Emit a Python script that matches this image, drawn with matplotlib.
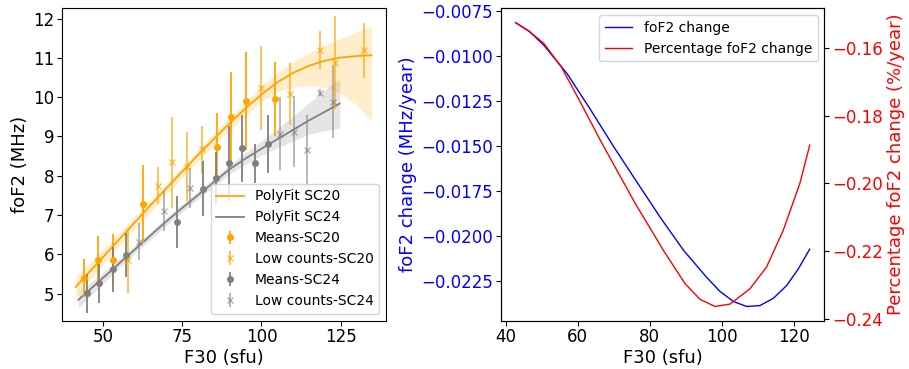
import matplotlib
matplotlib.use('Agg')
import matplotlib.pyplot as plt
from matplotlib.ticker import MultipleLocator
import numpy as np

# ---- left panel: foF2 vs F30 ----
# polynomial fits with their confidence band
fit20_x = [41.4, 45, 50, 55, 60, 65, 70, 75, 80, 85, 90, 95, 100, 105, 110, 115, 120, 125, 130, 134.7]
fit20_y = [5.17, 5.49, 5.93, 6.37, 6.81, 7.25, 7.68, 8.11, 8.53, 8.94, 9.34, 9.72, 10.07, 10.38, 10.62, 10.80, 10.93, 11.01, 11.05, 11.07]
fit20_hi = [5.45, 5.72, 6.12, 6.54, 6.96, 7.39, 7.81, 8.24, 8.66, 9.08, 9.49, 9.90, 10.30, 10.62, 10.90, 11.13, 11.33, 11.50, 11.66, 11.82]
fit20_lo = [4.92, 5.28, 5.74, 6.20, 6.64, 7.09, 7.53, 7.96, 8.38, 8.78, 9.17, 9.54, 9.88, 10.14, 10.25, 10.30, 10.25, 10.10, 9.80, 9.40]

fit24_x = [42.2, 45, 50, 55, 60, 65, 70, 75, 80, 85, 90, 95, 100, 105, 110, 115, 120, 124.7]
fit24_y = [4.84, 5.04, 5.40, 5.76, 6.12, 6.48, 6.84, 7.18, 7.51, 7.84, 8.17, 8.44, 8.69, 8.93, 9.17, 9.41, 9.63, 9.84]
fit24_hi = [5.04, 5.21, 5.54, 5.87, 6.22, 6.58, 6.94, 7.28, 7.61, 7.95, 8.29, 8.59, 8.89, 9.20, 9.52, 9.86, 10.18, 10.48]
fit24_lo = [4.64, 4.86, 5.26, 5.64, 6.02, 6.38, 6.74, 7.08, 7.41, 7.73, 8.05, 8.29, 8.52, 8.71, 8.89, 9.06, 9.15, 9.21]

# bin means
sc20_x = [44.0, 48.5, 53.3, 62.5, 85.9, 90.4, 95.1, 104.4]
sc20_y = [5.39, 5.86, 5.86, 7.28, 8.73, 9.49, 9.91, 9.95]
sc20_e = [0.48, 0.60, 0.65, 1.00, 0.86, 1.16, 1.25, 0.95]

sc20lc_x = [57.9, 67.2, 71.9, 76.5, 81.1, 99.7, 109.1, 118.4, 123.1, 132.2]
sc20lc_y = [5.85, 7.75, 8.34, 8.23, 8.68, 10.23, 10.08, 11.20, 10.88, 11.20]
sc20lc_e = [0.83, 0.48, 1.16, 0.88, 0.60, 1.07, 0.78, 0.48, 1.18, 0.70]

sc24_x = [44.8, 48.7, 53.0, 57.1, 73.5, 81.7, 85.6, 89.7, 93.8, 97.9, 102.2]
sc24_y = [5.01, 5.26, 5.62, 5.98, 6.83, 7.67, 7.94, 8.32, 8.70, 8.32, 8.81]
sc24_e = [0.50, 0.50, 0.57, 0.57, 0.66, 0.70, 0.66, 0.95, 0.86, 0.50, 0.74]

sc24lc_x = [61.2, 69.3, 77.4, 106.0, 110.2, 114.4, 118.4, 122.6]
sc24lc_y = [6.32, 7.10, 7.69, 9.07, 9.12, 8.66, 10.12, 9.88]
sc24lc_e = [0.47, 0.50, 0.50, 0.93, 0.90, 0.89, 0.08, 0.93]

# ---- right panel: trends ----
trend_x = [42.8, 46.5, 50.6, 57.1, 63.5, 70.0, 76.5, 82.9, 89.4, 95.8, 99.5, 103.2, 106.9,
           110.6, 114.3, 118.0, 121.2, 124.4]
trend_abs = [-0.00813, -0.00860, -0.00938, -0.01097, -0.01294, -0.01502, -0.01700, -0.01894,
             -0.02078, -0.02228, -0.02306, -0.02362, -0.02390, -0.02385, -0.02345, -0.02274,
             -0.02183, -0.02072]
pct_x = [42.77, 46.5, 50.61, 55.5, 60.48, 66.76, 75.99, 83.83, 89.83, 93.98, 98.13, 102.28,
         107.82, 112.43, 117.05, 121.66, 124.43]
trend_pct = [-0.1526, -0.1551, -0.1587, -0.1657, -0.1755, -0.1882, -0.2059, -0.2198, -0.2296,
             -0.2342, -0.2363, -0.2356, -0.2311, -0.2247, -0.2139, -0.2001, -0.1887]

fig = plt.figure(figsize=(9.09, 3.69), dpi=100)
ax1 = fig.add_axes([0.068, 0.131, 0.357, 0.846])
ax2 = fig.add_axes([0.551, 0.131, 0.356, 0.846])

ax1.fill_between(fit20_x, fit20_lo, fit20_hi, color='orange', alpha=0.2, lw=0)
ax1.fill_between(fit24_x, fit24_lo, fit24_hi, color='grey', alpha=0.2, lw=0)
ax1.plot(fit20_x, fit20_y, color='orange', lw=1.3, label='PolyFit SC20')
ax1.plot(fit24_x, fit24_y, color='grey', lw=1.3, label='PolyFit SC24')

ax1.errorbar(sc20_x, sc20_y, yerr=sc20_e, fmt='o', color='orange', ms=4, elinewidth=1.3, label='Means-SC20')
ax1.errorbar(sc20lc_x, sc20lc_y, yerr=sc20lc_e, fmt='x', color='orange', ms=4, elinewidth=1.3, alpha=0.7,
             label='Low counts-SC20')
ax1.errorbar(sc24_x, sc24_y, yerr=sc24_e, fmt='o', color='grey', ms=4, elinewidth=1.3, label='Means-SC24')
ax1.errorbar(sc24lc_x, sc24lc_y, yerr=sc24lc_e, fmt='x', color='grey', ms=4, elinewidth=1.3, alpha=0.6,
             label='Low counts-SC24')

ax1.set_xlim(37.0, 139.4)
ax1.set_ylim(4.31, 12.26)
ax1.set_xticks([50, 75, 100, 125])
ax1.set_xlabel('F30 (sfu)', fontsize=13, labelpad=2)
ax1.set_ylabel('foF2 (MHz)', fontsize=13, labelpad=3)
ax1.tick_params(labelsize=12, pad=2)
ax1.legend(loc='lower right', fontsize=10)

l1, = ax2.plot(trend_x, trend_abs, color='blue', lw=1, label='foF2 change')
ax2.yaxis.set_major_locator(MultipleLocator(0.0025))
ax2.set_xlabel('F30 (sfu)', fontsize=13, labelpad=2)
ax2.set_ylabel('foF2 change (MHz/year)', color='blue', fontsize=13, labelpad=3)
ax2.tick_params(axis='y', labelcolor='blue', labelsize=12, pad=2)
ax2.tick_params(axis='x', labelsize=12, pad=2)

ax3 = ax2.twinx()
l2, = ax3.plot(pct_x, trend_pct, color='red', lw=1, label='Percentage foF2 change')
ax3.set_ylabel('Percentage foF2 change (%/year)', color='red', fontsize=13, labelpad=3)
ax3.tick_params(axis='y', labelcolor='red', labelsize=12, pad=2)

ax2.legend(handles=[l1, l2], loc='upper right', fontsize=10)

fig.savefig('out.png', dpi=100)
